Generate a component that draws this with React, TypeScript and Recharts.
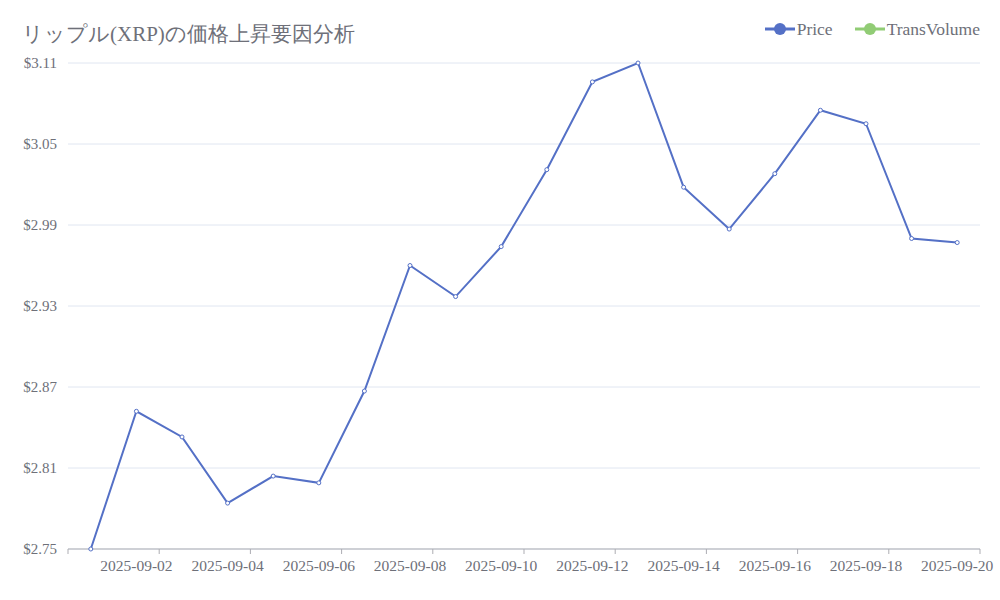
import { LineChart, Line, XAxis, YAxis, CartesianGrid, Legend } from "recharts"

const DATES = [
  "2025-09-01", "2025-09-02", "2025-09-03", "2025-09-04", "2025-09-05",
  "2025-09-06", "2025-09-07", "2025-09-08", "2025-09-09", "2025-09-10",
  "2025-09-11", "2025-09-12", "2025-09-13", "2025-09-14", "2025-09-15",
  "2025-09-16", "2025-09-17", "2025-09-18", "2025-09-19", "2025-09-20",
]
const PRICE = [
  2.75, 2.852, 2.833, 2.784, 2.804, 2.799, 2.867, 2.96, 2.937, 2.974,
  3.031, 3.096, 3.11, 3.018, 2.987, 3.028, 3.075, 3.065, 2.98, 2.977,
]
const Y_TICKS = [2.75, 2.81, 2.87, 2.93, 2.99, 3.05, 3.11]
const SERIES = [
  { name: "Price", color: "#5470c6" },
  { name: "TransVolume", color: "#91cc75" },
]

const W = 1000
const H = 600
const Y_W = 68
const RIGHT = 20
const BAND = (W - Y_W - RIGHT) / DATES.length
const LABEL = "#6e7079"
const FONT = "'Liberation Serif', 'DejaVu Serif', serif"

const data = DATES.map((d, i) => ({ date: d, price: PRICE[i] }))

const XTick = (props: any) => {
  const { x, y, index, payload } = props
  const odd = index % 2 === 1
  return (
    <g>
      {index === 0 && <line x1={x - BAND / 2} x2={x - BAND / 2} y1={y} y2={y + 5} stroke="#adadb3" />}
      {odd && <line x1={x + BAND / 2} x2={x + BAND / 2} y1={y} y2={y + 5} stroke="#adadb3" />}
      {odd && (
        <text x={x} y={y + 22} textAnchor="middle" fill={LABEL} fontSize={15.5} fontFamily={FONT}>
          {payload.value}
        </text>
      )}
    </g>
  )
}

const LegendBox = () => (
  <div style={{ display: "flex", justifyContent: "flex-end", gap: 22, fontFamily: FONT, fontSize: 17.5, color: LABEL, lineHeight: "18px" }}>
    {SERIES.map((s) => (
      <div key={s.name} style={{ display: "flex", alignItems: "center", gap: 2 }}>
        <svg width={30} height={14}>
          <line x1={0} x2={30} y1={7} y2={7} stroke={s.color} strokeWidth={3} />
          <circle cx={15} cy={7} r={6} fill={s.color} />
        </svg>
        <span>{s.name}</span>
      </div>
    ))}
  </div>
)

export default function App() {
  return (
    <div style={{ position: "absolute", left: 0, top: 0, width: W, height: H, background: "#fff" }}>
      <div
        style={{
          position: "absolute",
          left: 22,
          top: 21,
          fontSize: 21,
          color: LABEL,
          fontFamily: FONT,
          lineHeight: "26px",
          whiteSpace: "nowrap",
        }}
      >
        リップル(XRP)の価格上昇要因分析
      </div>
      <LineChart width={W} height={H} data={data} margin={{ top: 20, right: RIGHT, bottom: 21, left: 0 }}>
        <Legend verticalAlign="top" align="right" height={43} content={() => <LegendBox />} />
        <CartesianGrid vertical={false} stroke="#e0e6f1" />
        <XAxis
          dataKey="date"
          scale="band"
          interval={0}
          height={30}
          tickSize={0}
          tickMargin={0}
          tickLine={false}
          axisLine={{ stroke: "#adadb3" }}
          tick={<XTick />}
        />
        <YAxis
          width={Y_W}
          domain={[2.75, 3.11]}
          ticks={Y_TICKS}
          tickLine={false}
          axisLine={false}
          tickMargin={5}
          tickFormatter={(v: number) => `$${v.toFixed(2)}`}
          tick={{ fill: LABEL, fontSize: 15, fontFamily: FONT }}
        />
        <Line
          dataKey="price"
          name="Price"
          stroke={SERIES[0].color}
          strokeWidth={2}
          dot={{ r: 2, fill: "#fff", stroke: SERIES[0].color, strokeWidth: 1 }}
          isAnimationActive={false}
        />
      </LineChart>
    </div>
  )
}
